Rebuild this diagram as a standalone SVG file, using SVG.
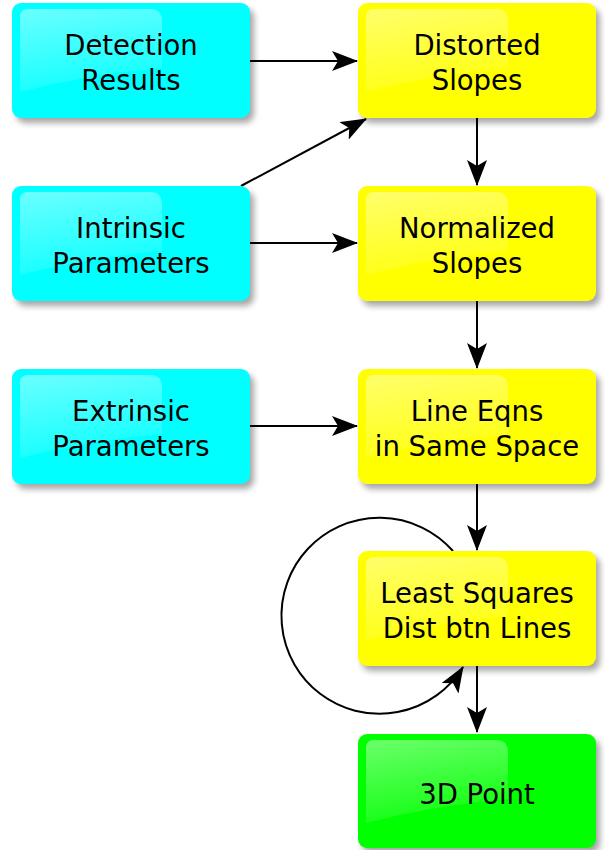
<svg xmlns="http://www.w3.org/2000/svg" width="605" height="850" viewBox="0 0 605 850">
  <style>
    .lbl { font-family: "DejaVu Sans", "Liberation Sans", sans-serif; font-size: 27.5px; fill: #000; text-anchor: middle; }
    .edge { stroke: #000; stroke-width: 2; fill: none; marker-end: url(#arrow); }
    .cyan { fill: #00ffff; }
    .yellow { fill: #ffff00; }
    .green { fill: #00ff00; }
    .shade { fill: #000; opacity: 0.35; filter: url(#blur); }
    .gloss { fill: url(#glossGrad); }
  </style>
  <defs>
    <marker id="arrow" viewBox="0 0 26 20" refX="25" refY="10" markerWidth="26" markerHeight="20" markerUnits="userSpaceOnUse" orient="auto">
      <path d="M0,0 L26,10 L0,20 L6,10 Z" fill="#000"/>
    </marker>
    <filter id="blur" x="-20%" y="-20%" width="140%" height="140%">
      <feGaussianBlur stdDeviation="3"/>
    </filter>
    <linearGradient id="glossGrad" x1="0" y1="0" x2="0.3" y2="1">
      <stop offset="0" stop-color="#fff" stop-opacity="0.42"/>
      <stop offset="1" stop-color="#fff" stop-opacity="0.08"/>
    </linearGradient>
  </defs>

  <!-- connectors -->
  <g id="connectors">
    <line class="edge" x1="250" y1="61" x2="357" y2="61"/>
    <line class="edge" x1="241" y1="186" x2="366" y2="119"/>
    <line class="edge" x1="250" y1="243" x2="357" y2="243"/>
    <line class="edge" x1="250" y1="426" x2="357" y2="426"/>
    <line class="edge" x1="477" y1="118" x2="477" y2="185"/>
    <line class="edge" x1="477" y1="301" x2="477" y2="368"/>
    <line class="edge" x1="477" y1="484" x2="477" y2="550"/>
    <line class="edge" x1="477" y1="666" x2="477" y2="732"/>
    <path class="edge" d="M453,551 A98,98 0 1 0 463,667"/>
  </g>

  <!-- input nodes -->
  <g id="detection-results">
    <rect class="shade" x="16" y="8" width="238" height="115" rx="9"/>
    <rect class="cyan" x="12" y="3" width="238" height="115" rx="9"/>
    <path class="gloss" d="M28,9 H150 Q162,9 162,21 V68 Q90,74 20,92 V17 Q20,9 28,9 Z"/>
    <text class="lbl" x="131" y="55">Detection</text>
    <text class="lbl" x="131" y="90">Results</text>
  </g>

  <g id="intrinsic-parameters">
    <rect class="shade" x="16" y="191" width="238" height="115" rx="9"/>
    <rect class="cyan" x="12" y="186" width="238" height="115" rx="9"/>
    <path class="gloss" d="M28,192 H150 Q162,192 162,204 V251 Q90,257 20,275 V200 Q20,192 28,192 Z"/>
    <text class="lbl" x="131" y="238">Intrinsic</text>
    <text class="lbl" x="131" y="273">Parameters</text>
  </g>

  <g id="extrinsic-parameters">
    <rect class="shade" x="16" y="374" width="238" height="115" rx="9"/>
    <rect class="cyan" x="12" y="369" width="238" height="115" rx="9"/>
    <path class="gloss" d="M28,375 H150 Q162,375 162,387 V434 Q90,440 20,458 V383 Q20,375 28,375 Z"/>
    <text class="lbl" x="131" y="421">Extrinsic</text>
    <text class="lbl" x="131" y="456">Parameters</text>
  </g>

  <!-- processing nodes -->
  <g id="distorted-slopes">
    <rect class="shade" x="362" y="8" width="238" height="115" rx="9"/>
    <rect class="yellow" x="358" y="3" width="238" height="115" rx="9"/>
    <path class="gloss" d="M374,9 H496 Q508,9 508,21 V68 Q436,74 366,92 V17 Q366,9 374,9 Z"/>
    <text class="lbl" x="477" y="55">Distorted</text>
    <text class="lbl" x="477" y="90">Slopes</text>
  </g>

  <g id="normalized-slopes">
    <rect class="shade" x="362" y="191" width="238" height="115" rx="9"/>
    <rect class="yellow" x="358" y="186" width="238" height="115" rx="9"/>
    <path class="gloss" d="M374,192 H496 Q508,192 508,204 V251 Q436,257 366,275 V200 Q366,192 374,192 Z"/>
    <text class="lbl" x="477" y="238">Normalized</text>
    <text class="lbl" x="477" y="273">Slopes</text>
  </g>

  <g id="line-eqns">
    <rect class="shade" x="362" y="374" width="238" height="115" rx="9"/>
    <rect class="yellow" x="358" y="369" width="238" height="115" rx="9"/>
    <path class="gloss" d="M374,375 H496 Q508,375 508,387 V434 Q436,440 366,458 V383 Q366,375 374,375 Z"/>
    <text class="lbl" x="477" y="421">Line Eqns</text>
    <text class="lbl" x="477" y="456">in Same Space</text>
  </g>

  <g id="least-squares">
    <rect class="shade" x="362" y="556" width="238" height="115" rx="9"/>
    <rect class="yellow" x="358" y="551" width="238" height="115" rx="9"/>
    <path class="gloss" d="M374,557 H496 Q508,557 508,569 V616 Q436,622 366,640 V565 Q366,557 374,557 Z"/>
    <text class="lbl" x="477" y="603">Least Squares</text>
    <text class="lbl" x="477" y="638">Dist btn Lines</text>
  </g>

  <!-- output node -->
  <g id="point-3d">
    <rect class="shade" x="362" y="739" width="238" height="114" rx="9"/>
    <rect class="green" x="358" y="734" width="238" height="114" rx="9"/>
    <path class="gloss" d="M374,740 H496 Q508,740 508,752 V799 Q436,805 366,823 V748 Q366,740 374,740 Z"/>
    <text class="lbl" x="477" y="804">3D Point</text>
  </g>
</svg>
